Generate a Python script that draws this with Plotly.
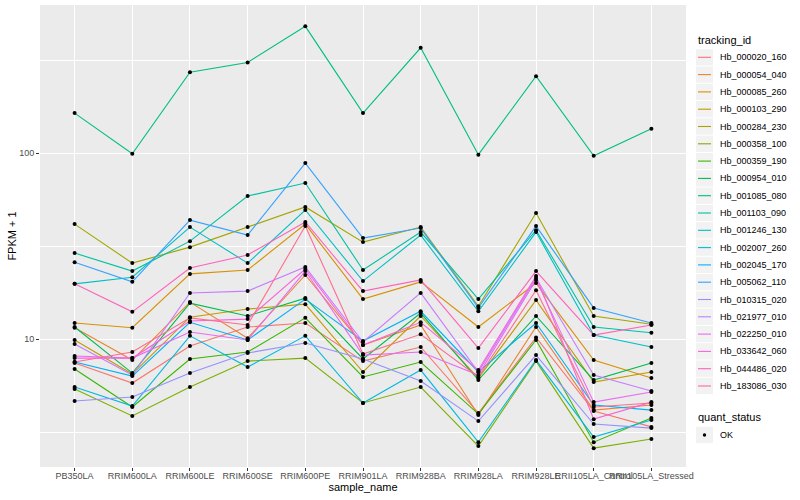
import plotly.graph_objects as go

samples = ["PB350LA", "RRIM600LA", "RRIM600LE", "RRIM600SE", "RRIM600PE",
           "RRIM901LA", "RRIM928BA", "RRIM928LA", "RRIM928LE",
           "RRII105LA_Control", "RRII105LA_Stressed"]

tracking_ids = ["Hb_000020_160", "Hb_000054_040", "Hb_000085_260", "Hb_000103_290",
                "Hb_000284_230", "Hb_000358_100", "Hb_000359_190", "Hb_000954_010",
                "Hb_001085_080", "Hb_001103_090", "Hb_001246_130", "Hb_002007_260",
                "Hb_002045_170", "Hb_005062_110", "Hb_010315_020", "Hb_021977_010",
                "Hb_022250_010", "Hb_033642_060", "Hb_044486_020", "Hb_183086_030"]

colors = ["#F8766D", "#EA8331", "#D89000", "#C09B00", "#A3A500", "#7CAE00",
          "#39B600", "#00BB4E", "#00BF7D", "#00C1A3", "#00BFC4", "#00BAE0",
          "#00B0F6", "#35A2FF", "#9590FF", "#C77CFF", "#E76BF3", "#FA62DB",
          "#FF62BC", "#FF6C91"]

# FPKM + 1 values, one list per tracking_id (in sample order)
Hb_000020_160 = [7.43, 5.80, 9.17, 11.6, 12.2, 7.61, 9.06, 4.00, 10.2, 4.10, 3.37]
Hb_000054_040 = [11.5, 7.71, 15.8, 10.1, 22.1, 9.28, 11.9, 3.90, 11.6, 4.15, 4.42]
Hb_000085_260 = [12.2, 11.5, 22.4, 23.5, 41.5, 16.4, 20.3, 11.6, 20.0, 7.71, 6.17]
Hb_000103_290 = [9.88, 6.48, 13.1, 14.5, 15.4, 6.65, 13.3, 6.17, 16.2, 5.87, 6.65]
Hb_000284_230 = [41.5, 25.6, 31.2, 40.0, 51.3, 33.2, 40.0, 15.0, 47.6, 13.3, 12.0]
Hb_000358_100 = [5.38, 3.86, 5.52, 7.61, 7.90, 4.53, 5.52, 2.66, 7.61, 2.59, 2.90]
Hb_000359_190 = [6.90, 4.31, 7.81, 8.51, 13.0, 6.25, 7.52, 3.95, 9.88, 2.79, 3.76]
Hb_000954_010 = [11.6, 6.56, 15.6, 13.3, 16.6, 7.81, 13.8, 6.02, 13.3, 6.02, 7.43]
Hb_001085_080 = [164, 99.2, 272, 307, 480, 164, 368, 98.0, 259, 96.7, 135]
Hb_001103_090 = [29.0, 23.2, 33.6, 58.7, 69.0, 23.5, 37.6, 16.4, 38.5, 11.6, 10.8]
Hb_001246_130 = [19.8, 21.5, 40.0, 25.6, 49.4, 20.5, 36.2, 14.1, 37.6, 10.5, 9.06]
Hb_002007_260 = [5.52, 4.36, 10.4, 7.07, 10.4, 4.53, 6.81, 2.79, 7.71, 2.97, 3.67]
Hb_002045_170 = [7.52, 6.32, 12.3, 9.88, 16.4, 9.75, 14.1, 6.65, 12.2, 4.42, 4.15]
Hb_005062_110 = [25.9, 20.3, 43.6, 36.2, 88.3, 34.9, 39.5, 14.7, 40.5, 14.7, 12.2]
Hb_010315_020 = [4.64, 4.88, 6.56, 8.41, 9.52, 7.81, 5.94, 3.62, 8.20, 3.49, 3.32]
Hb_021977_010 = [9.40, 6.40, 17.7, 18.1, 24.4, 9.64, 17.7, 6.65, 21.3, 6.40, 5.25]
Hb_022250_010 = [8.10, 7.90, 10.9, 9.88, 23.2, 8.20, 8.51, 6.40, 20.8, 4.58, 5.19]
Hb_033642_060 = [7.90, 7.90, 12.5, 12.8, 23.8, 9.28, 12.3, 6.81, 21.8, 3.71, 4.58]
Hb_044486_020 = [19.8, 14.0, 24.1, 28.3, 42.6, 18.1, 20.8, 8.94, 23.2, 10.5, 11.9]
Hb_183086_030 = [7.52, 8.51, 13.0, 11.9, 40.5, 8.31, 10.6, 6.25, 18.3, 4.31, 4.53]

series = [Hb_000020_160, Hb_000054_040, Hb_000085_260, Hb_000103_290, Hb_000284_230,
          Hb_000358_100, Hb_000359_190, Hb_000954_010, Hb_001085_080, Hb_001103_090,
          Hb_001246_130, Hb_002007_260, Hb_002045_170, Hb_005062_110, Hb_010315_020,
          Hb_021977_010, Hb_022250_010, Hb_033642_060, Hb_044486_020, Hb_183086_030]

quant_status = ["OK"]

W, H = 800, 500
ML, MR, MT, MB = 40, 114, 5, 33
PW, PH = W - ML - MR, H - MT - MB


def fx(px):  # pixel x -> paper x
    return (px - ML) / PW


def fy(py):  # pixel y -> paper y
    return (H - MB - py) / PH


fig = go.Figure()
for name, vals, col in zip(tracking_ids, series, colors):
    fig.add_trace(go.Scatter(x=samples, y=vals, mode="lines", name=name,
                             line=dict(color=col, width=1.1), showlegend=False))

px_, py_ = [], []
for vals in series:
    px_ += samples
    py_ += vals
fig.add_trace(go.Scatter(x=px_, y=py_, mode="markers", name=quant_status[0],
                         marker=dict(color="black", size=4, symbol="circle"),
                         showlegend=False))

font_family = "Liberation Sans, Arial, sans-serif"

# manual ggplot-style legends
shapes, annotations = [], []
key_l, key_r = 696, 713
annotations.append(dict(text="tracking_id", x=fx(key_l), y=fy(40), xref="paper", yref="paper",
                        xanchor="left", yanchor="middle", showarrow=False,
                        font=dict(size=11, color="black")))
y0, step = 57.3, 17.3
for i, (name, col) in enumerate(zip(tracking_ids, colors)):
    yc = y0 + i * step
    shapes.append(dict(type="rect", xref="paper", yref="paper",
                       x0=fx(key_l), x1=fx(key_r), y0=fy(yc - step / 2 + 0.5), y1=fy(yc + step / 2 - 0.5),
                       fillcolor="#F2F2F2", line=dict(width=0), layer="above"))
    shapes.append(dict(type="line", xref="paper", yref="paper",
                       x0=fx(key_l + 2), x1=fx(key_r - 2), y0=fy(yc), y1=fy(yc),
                       line=dict(color=col, width=1.1), layer="above"))
    annotations.append(dict(text=name, x=fx(718), y=fy(yc), xref="paper", yref="paper",
                            xanchor="left", yanchor="middle", showarrow=False,
                            font=dict(size=9, color="black")))

annotations.append(dict(text="quant_status", x=fx(key_l), y=fy(417), xref="paper", yref="paper",
                        xanchor="left", yanchor="middle", showarrow=False,
                        font=dict(size=11, color="black")))
yc = 435
shapes.append(dict(type="rect", xref="paper", yref="paper",
                   x0=fx(key_l), x1=fx(key_r), y0=fy(yc - 8.2), y1=fy(yc + 8.2),
                   fillcolor="#F2F2F2", line=dict(width=0), layer="above"))
shapes.append(dict(type="circle", xref="paper", yref="paper",
                   x0=fx(702.8), x1=fx(706.2), y0=fy(yc - 1.7), y1=fy(yc + 1.7),
                   fillcolor="black", line=dict(width=0), layer="above"))
annotations.append(dict(text=quant_status[0], x=fx(718), y=fy(yc), xref="paper", yref="paper",
                        xanchor="left", yanchor="middle", showarrow=False,
                        font=dict(size=9, color="black")))

fig.update_layout(
    width=W, height=H,
    margin=dict(l=ML, r=MR, t=MT, b=MB, autoexpand=False),
    paper_bgcolor="white", plot_bgcolor="#EBEBEB",
    font=dict(family=font_family, size=9, color="#000000"),
    showlegend=False,
    shapes=shapes, annotations=annotations,
    xaxis=dict(type="category", categoryorder="array", categoryarray=samples,
               range=[-0.6, 10.6], tickangle=0, automargin=False,
               showgrid=True, gridcolor="white", gridwidth=1.1,
               ticks="outside", ticklen=3, tickcolor="#333333",
               ticklabelstandoff=-3,
               tickfont=dict(size=9, color="#4D4D4D"),
               title=dict(text="sample_name", font=dict(size=11), standoff=3),
               zeroline=False, showline=False),
    yaxis=dict(type="log", range=[0.312, 2.796], automargin=False,
               tickvals=[10, 100], ticktext=["10", "100"],
               showgrid=True, gridcolor="white", gridwidth=1.1,
               minor=dict(tickvals=[3.1623, 31.623, 316.23], showgrid=True,
                          gridcolor="white", gridwidth=0.5, ticks=""),
               ticks="outside", ticklen=3, tickcolor="#333333",
               tickfont=dict(size=9, color="#4D4D4D"),
               title=dict(text="FPKM + 1", font=dict(size=11), standoff=0),
               zeroline=False, showline=False),
)

fig.write_html("out.html", config={"displayModeBar": False},
               post_script="document.body.style.margin='0px';document.body.style.overflow='hidden';")
